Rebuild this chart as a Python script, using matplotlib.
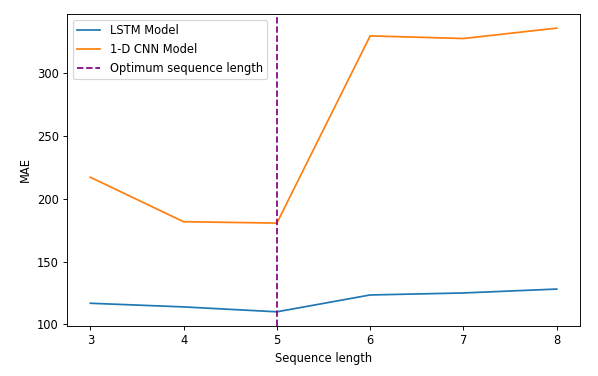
import matplotlib
matplotlib.use("Agg")
import matplotlib.pyplot as plt

# data
seq_len = [3, 4, 5, 6, 7, 8]
lstm_mae = [116.9, 114.0, 110.1, 123.5, 125.1, 128.2]
cnn_mae = [217.2, 181.8, 180.7, 329.7, 327.6, 335.9]
optimum = 5

DPI = 83
fig = plt.figure(figsize=(598 / DPI, 376 / DPI), dpi=DPI)
ax = fig.add_axes([0.112, 0.133, 0.858, 0.830])

ax.plot(seq_len, lstm_mae, label='LSTM Model')
ax.plot(seq_len, cnn_mae, label='1-D CNN Model')
ax.axvline(optimum, color='purple', linestyle='--', label='Optimum sequence length')

ax.set_xlabel('Sequence length')
ax.set_ylabel('MAE')
ax.legend(loc='upper left')

fig.savefig('out.png', dpi=DPI)
